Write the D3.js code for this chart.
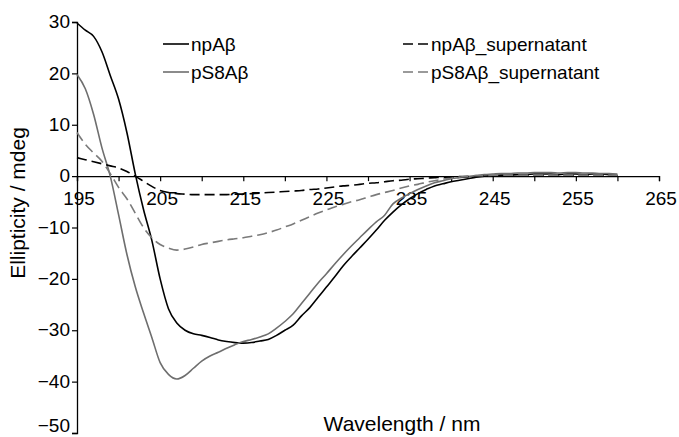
<!DOCTYPE html>
<html>
<head>
<meta charset="utf-8">
<script src="https://cdn.jsdelivr.net/npm/d3@7"></script>
<style>
html,body{margin:0;padding:0;background:#fff;}
svg{display:block;}
text{font-family:"Liberation Sans",Arial,sans-serif;fill:#000;}
</style>
</head>
<body>
<svg id="chart" width="679" height="437"></svg>
<script>
// ---- data ----
const wavelengths = d3.range(195, 261); // 195..260 nm, 1 nm steps
const npAb = [29.8,28.4,27.2,24.2,19.6,15.0,8.5,0.5,-6.5,-12.5,
  -20.0,-25.8,-28.6,-30.0,-30.7,-31.0,-31.4,-31.9,-32.2,-32.4,
  -32.5,-32.4,-32.1,-31.8,-31.0,-30.0,-29.0,-27.2,-25.6,-23.6,
  -21.6,-19.6,-17.5,-15.7,-14.0,-12.3,-10.5,-8.6,-7.0,-5.6,
  -4.4,-3.4,-2.6,-1.9,-1.5,-1.1,-0.8,-0.5,-0.2,0.0,
  0.1,0.2,0.2,0.3,0.3,0.4,0.4,0.4,0.3,0.4,
  0.4,0.3,0.4,0.4,0.3,0.1];
const pS8Ab = [19.8,17.0,12.0,5.5,0,-7.5,-15.2,-21.5,-26.6,-31.4,
  -36.3,-38.6,-39.5,-38.8,-37.4,-36.0,-35.0,-34.3,-33.5,-32.8,
  -32.2,-31.8,-31.3,-30.7,-29.6,-28.3,-26.8,-24.8,-22.8,-20.8,
  -19.0,-17.1,-15.3,-13.6,-12.0,-10.4,-8.9,-7.6,-5.4,-4.3,
  -3.4,-2.6,-1.9,-1.3,-0.9,-0.5,-0.3,-0.1,0.1,0.3,
  0.4,0.5,0.5,0.6,0.6,0.7,0.7,0.7,0.6,0.7,
  0.7,0.6,0.6,0.5,0.5,0.4];
const npAbSup = [3.6,3.2,2.8,2.4,2.0,1.6,0.9,0.0,-1.0,-2.0,
  -2.8,-3.2,-3.4,-3.5,-3.6,-3.6,-3.6,-3.6,-3.6,-3.5,
  -3.5,-3.4,-3.3,-3.2,-3.1,-3.0,-2.9,-2.8,-2.6,-2.5,
  -2.3,-2.1,-1.9,-1.8,-1.6,-1.4,-1.3,-1.1,-0.9,-0.8,
  -0.6,-0.5,-0.4,-0.3,-0.2,-0.2,-0.1,-0.1,0,0,
  0,0,0.1,0.1,0.1,0.1,0.1,0.1,0.1,0.1,
  0.1,0.1,0.1,0.1,0.1,0.1];
const pS8AbSup = [8.5,6.2,4.5,2.9,0.5,-2.2,-4.4,-7.2,-10.0,-12.0,
  -13.3,-14.0,-14.4,-14.2,-13.8,-13.3,-13.0,-12.7,-12.4,-12.2,
  -12.0,-11.7,-11.4,-11.0,-10.5,-9.9,-9.3,-8.6,-7.9,-7.2,
  -6.6,-6.0,-5.5,-5.0,-4.6,-4.1,-3.6,-3.2,-2.8,-2.3,
  -1.9,-1.6,-1.2,-0.9,-0.6,-0.4,-0.2,0,0.1,0.1,
  0.2,0.2,0.2,0.2,0.2,0.2,0.2,0.2,0.2,0.2,
  0.2,0.2,0.2,0.2,0.2,0.2];
const seriesNames = ["npA\u03B2","pS8A\u03B2","npA\u03B2_supernatant","pS8A\u03B2_supernatant"];
const xTickValues = [195,205,215,225,235,245,255,265];
const xMinorTicks = d3.range(195, 266, 5);
const yTickValues = [30,20,10,0,-10,-20,-30,-40,-50];

// ---- chart ----
const svg = d3.select("#chart");
const x = d3.scaleLinear().domain([195,265]).range([77,659]);
const y = d3.scaleLinear().domain([-50,30]).range([433,22]);

// y axis
const yAxis = svg.append("g").attr("transform","translate(77,0)")
  .call(d3.axisLeft(y).tickValues(yTickValues).tickSize(5).tickPadding(2).tickFormat(d3.format("d")));
yAxis.select(".domain").attr("stroke","#000").attr("stroke-width",1.3);
yAxis.selectAll(".tick line").attr("stroke","#000").attr("stroke-width",1.2);
yAxis.selectAll("text").style("font-size","19px").attr("fill","#000")
  .attr("dy", d => d === -50 ? "-0.08em" : "0.3em");

// x axis
const xAxis = svg.append("g").attr("transform",`translate(0,${y(0)})`)
  .call(d3.axisBottom(x).tickValues(xMinorTicks).tickSize(5).tickFormat(""));
xAxis.select(".domain").attr("stroke","#000").attr("stroke-width",1.3);
xAxis.selectAll(".tick line").attr("stroke","#000").attr("stroke-width",1.2);
svg.append("g").selectAll("text").data(xTickValues).join("text")
  .attr("x", d => x(d) + 2).attr("y", 205)
  .attr("text-anchor","middle").style("font-size","19px")
  .text(d => d);

// titles
svg.append("text").attr("x",402).attr("y",431).attr("text-anchor","middle")
  .style("font-size","21px").text("Wavelength / nm");
svg.append("text").attr("transform","translate(25,203) rotate(-90)")
  .attr("text-anchor","middle").style("font-size","21px").text("Ellipticity / mdeg");

// lines
const line = d3.line().x((d,i) => x(wavelengths[i])).y(d => y(d)).curve(d3.curveMonotoneX);
const series = [
  {vals:npAb, color:"#000000", dash:null},
  {vals:pS8Ab, color:"#6e6e6e", dash:null},
  {vals:npAbSup, color:"#000000", dash:"10,5"},
  {vals:pS8AbSup, color:"#7a7a7a", dash:"10,5"}
];
svg.append("g").selectAll("path").data(series).join("path")
  .attr("d", d => line(d.vals))
  .attr("fill","none").attr("stroke", d => d.color).attr("stroke-width",1.6)
  .attr("stroke-dasharray", d => d.dash);

// legend
const legendPos = [[163,44],[163,72],[403,44],[403,72]];
const lg = svg.append("g").selectAll("g").data(series).join("g")
  .attr("transform",(d,i) => `translate(${legendPos[i][0]},${legendPos[i][1]})`);
lg.append("line").attr("x1",0).attr("x2",26).attr("y1",0).attr("y2",0)
  .attr("stroke", d => d.color).attr("stroke-width",1.6)
  .attr("stroke-dasharray", d => d.dash ? "10,5" : null);
lg.append("text").attr("x",28).attr("y",0).attr("dy","0.35em")
  .style("font-size","19px").text((d,i) => seriesNames[i]);
</script>
</body>
</html>
